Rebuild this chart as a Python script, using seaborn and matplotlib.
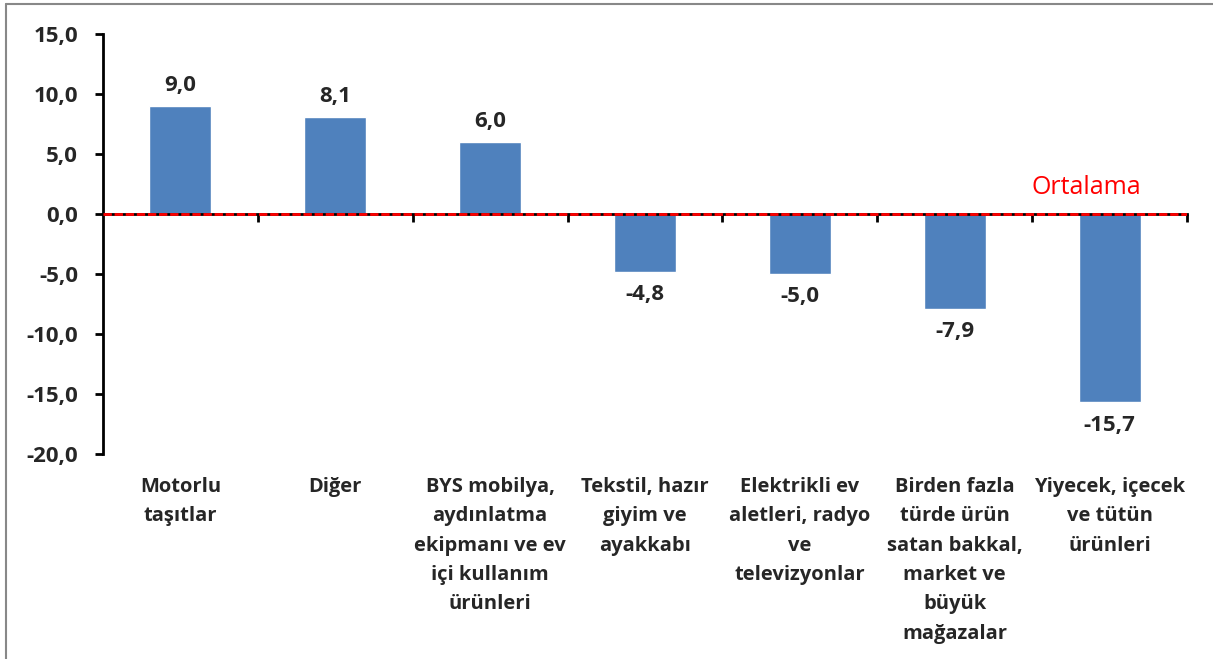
import matplotlib
matplotlib.use('Agg')
import matplotlib.pyplot as plt
import matplotlib.ticker as mticker
from matplotlib.lines import Line2D
import pandas as pd
import seaborn as sns

# Data
categories = ['Motorlu\ntaşıtlar', 'Diğer', 'BYS mobilya,\naydınlatma\nekipmanı ve ev\niçi kullanım\nürünleri',
              'Tekstil, hazır\ngiyim ve\nayakkabı', 'Elektrikli ev\naletleri, radyo\nve\ntelevizyonlar',
              'Birden fazla\ntürde ürün\nsatan bakkal,\nmarket ve\nbüyük\nmağazalar',
              'Yiyecek, içecek\nve tütün\nürünleri']
values = [9.0, 8.1, 6.0, -4.8, -5.0, -7.9, -15.7]
y_ticks = [-20, -15, -10, -5, 0, 5, 10, 15]
avg_label = 'Ortalama'

df = pd.DataFrame({'cat': categories, 'val': values})

sns.set_style('white')
plt.rcParams['font.family'] = ['Open Sans', 'DejaVu Sans']

fig = plt.figure(figsize=(12.13, 6.59), dpi=100)
ax = fig.add_axes([0.0849, 0.3111, 0.8937, 0.6373])

sns.barplot(data=df, x='cat', y='val', order=categories, color='#4F81BD',
            saturation=1, width=0.4, ax=ax)

ax.set_xlim(-0.5, len(categories) - 0.5)
ax.set_ylim(min(y_ticks), max(y_ticks))
ax.set_yticks(y_ticks)
ax.yaxis.set_major_formatter(mticker.FuncFormatter(lambda v, p: f'{v:.1f}'.replace('.', ',')))
ax.tick_params(axis='y', labelsize=16, length=6, width=2, color='black', pad=12, left=True)
for lab in ax.get_yticklabels():
    lab.set_fontweight('bold')

# x axis sits at zero, ticks between categories
ax.spines['top'].set_visible(False)
ax.spines['right'].set_visible(False)
ax.spines['left'].set_linewidth(2)
ax.spines['left'].set_color('black')
ax.spines['bottom'].set_position(('data', 0))
ax.spines['bottom'].set_linewidth(2)
ax.spines['bottom'].set_color('black')
ax.set_xticks([i + 0.5 for i in range(len(categories))])
ax.set_xticklabels([])
ax.tick_params(axis='x', length=6, width=2, color='black', bottom=True)
ax.set_xlabel('')
ax.set_ylabel('')

for i, c in enumerate(categories):
    ax.text(i, -0.055, c, transform=ax.get_xaxis_transform(), ha='center', va='top',
            fontsize=14.5, fontweight='bold', linespacing=1.62)

# average line
ax.axhline(0, color='#FF0000', lw=2, ls=(0, (3, 1)), zorder=5)
ax.text(5.85, 1.7, avg_label, color='#FF0000', fontsize=18, ha='center', va='baseline')

# value labels
for i, v in enumerate(values):
    lbl = f'{v:.1f}'.replace('.', ',')
    ax.annotate(lbl, (i, v), xytext=(0, 7 if v > 0 else -9), textcoords='offset points',
                ha='center', va='bottom' if v > 0 else 'top', fontsize=16, fontweight='bold')

# chart border
fig.add_artist(Line2D([0.005, 1.0], [0.994, 0.994], transform=fig.transFigure, color='#888888', lw=1.5))
fig.add_artist(Line2D([0.005, 0.005], [0.0, 0.994], transform=fig.transFigure, color='#888888', lw=1.5))

fig.savefig('out.png', dpi=100)
